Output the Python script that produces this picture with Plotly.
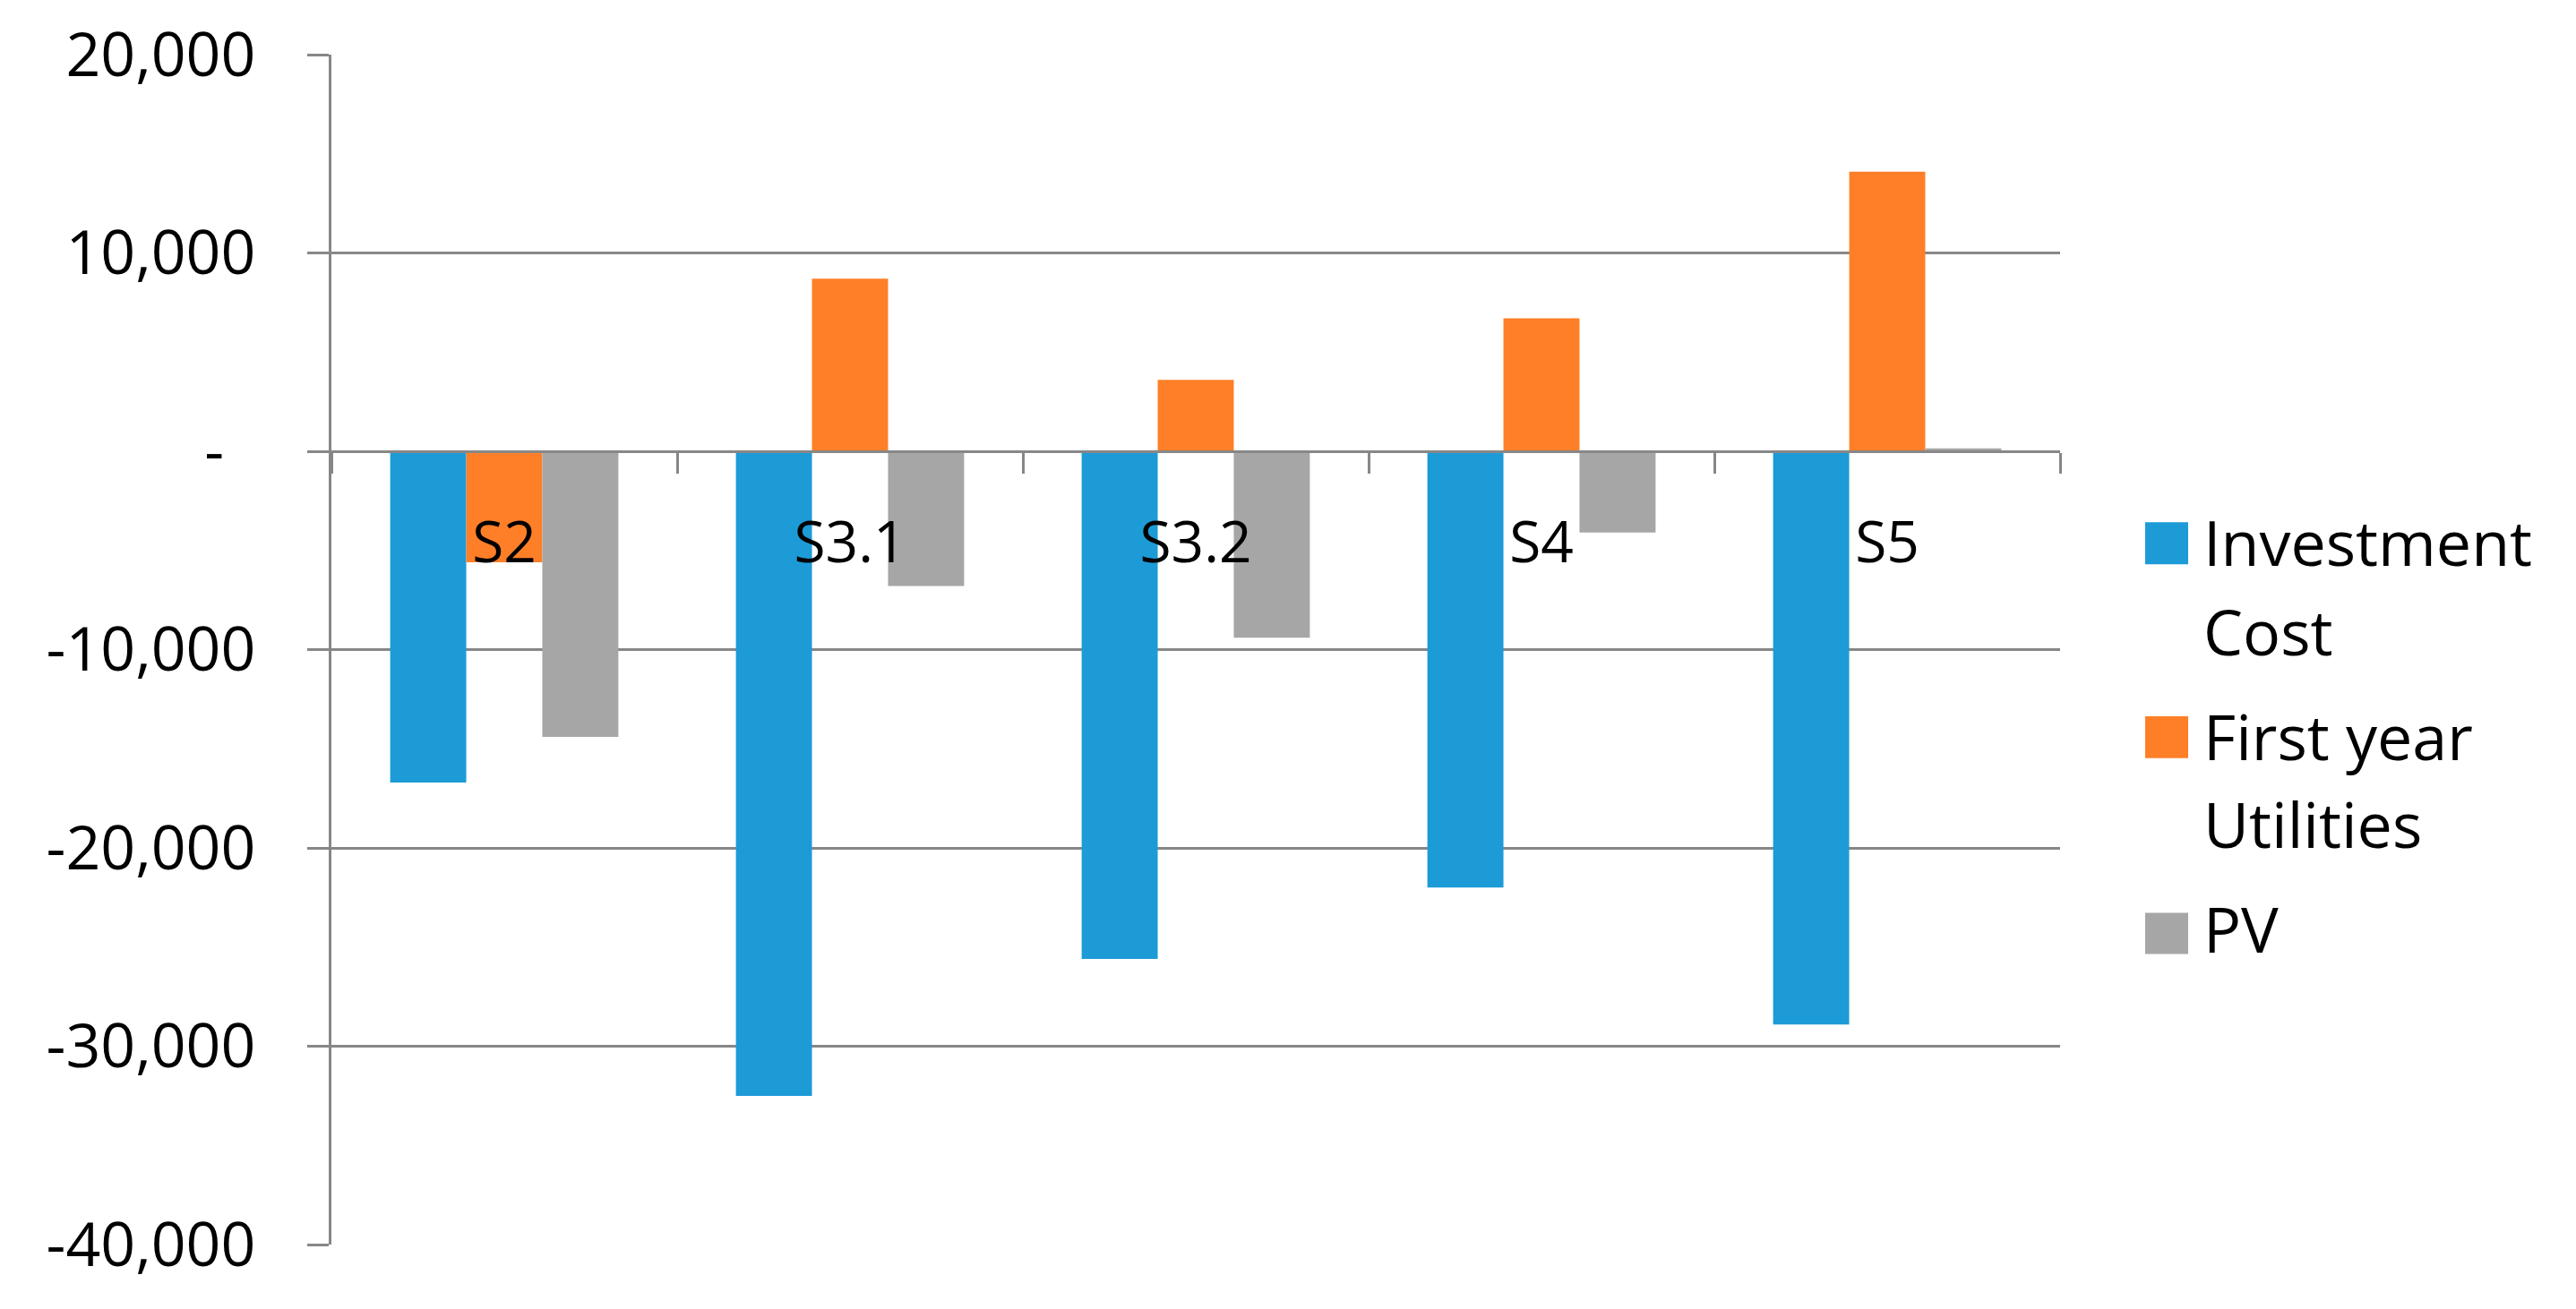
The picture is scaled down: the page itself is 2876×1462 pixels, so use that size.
import plotly.graph_objects as go

# ---- data ----
categories = ["S2", "S3.1", "S3.2", "S4", "S5"]
investment_cost = [-16700, -32500, -25600, -22000, -28900]
first_year_utilities = [-5600, 8700, 3600, 6700, 14100]
pv = [-14400, -6800, -9400, -4100, 150]
series_names = ["Investment Cost", "First year Utilities", "PV"]
legend_lines = [["Investment", "Cost"], ["First year", "Utilities"], ["PV"]]
y_tick_values = [-40000, -30000, -20000, -10000, 0, 10000, 20000]
y_tick_labels = ["-40,000", "-30,000", "-20,000", "-10,000", "-\u00a0\u00a0", "10,000", "20,000"]
colors = ["#1D9BD7", "#FE7F27", "#A6A6A6"]

# ---- layout geometry (pixels) ----
W, H = 2876, 1462
PL, PR, PT, PB = 370, 2300, 59, 1390
Y_MIN, Y_MAX = -40000, 20000
GRID = "#878787"
FONT = "Open Sans"


def px_x(x):
    return (x - PL) / (PR - PL)


def px_y(y):
    return (PB - y) / (PB - PT)


fig = go.Figure()
for name, vals, col in zip(series_names, [investment_cost, first_year_utilities, pv], colors):
    fig.add_trace(go.Bar(name=name, x=categories, y=vals, marker=dict(color=col, line=dict(width=0)),
                         showlegend=False))

# manual legend (large square keys)
legend_squares = [(582, 629), (799, 846), (1019, 1065)]
legend_text_centers = [[604, 704], [821, 919], [1036]]
shapes = []
annotations = []
for (top, bot), col, lines, centers in zip(legend_squares, colors, legend_lines, legend_text_centers):
    shapes.append(dict(type="rect", xref="paper", yref="paper",
                       x0=px_x(2395), x1=px_x(2443), y0=px_y(bot), y1=px_y(top),
                       fillcolor=col, line=dict(width=0)))
    for txt, cy in zip(lines, centers):
        annotations.append(dict(text=txt, xref="paper", yref="paper", x=px_x(2458), y=px_y(cy),
                                xanchor="left", yanchor="middle", showarrow=False,
                                font=dict(family=FONT, size=70, color="#000000")))

fig.update_layout(
    width=W, height=H,
    margin=dict(l=PL, r=W - PR, t=PT, b=H - PB, pad=0),
    paper_bgcolor="white", plot_bgcolor="white",
    barmode="group", bargap=0.34, bargroupgap=0,
    showlegend=False,
    font=dict(family=FONT, size=64, color="#000000"),
    shapes=shapes, annotations=annotations,
    xaxis=dict(type="category", range=[-0.5, len(categories) - 0.5],
               anchor="free", position=(0 - Y_MIN) / (Y_MAX - Y_MIN),
               showline=True, linecolor=GRID, linewidth=3,
               ticks="outside", tickson="boundaries", ticklen=23, tickwidth=3, tickcolor=GRID,
               showgrid=False, zeroline=False,
               tickfont=dict(family=FONT, size=64, color="#000000"),
               ticklabelstandoff=45),
    yaxis=dict(range=[Y_MIN, Y_MAX], tickvals=y_tick_values, ticktext=y_tick_labels,
               showline=True, linecolor=GRID, linewidth=3,
               ticks="outside", ticklen=24, tickwidth=3, tickcolor=GRID,
               showgrid=True, gridcolor=GRID, gridwidth=3, zeroline=False,
               tickfont=dict(family=FONT, size=68, color="#000000"),
               ticklabelstandoff=44),
)

fig.write_html("out.html", config={"displayModeBar": False},
               post_script="document.body.style.margin='0';")
